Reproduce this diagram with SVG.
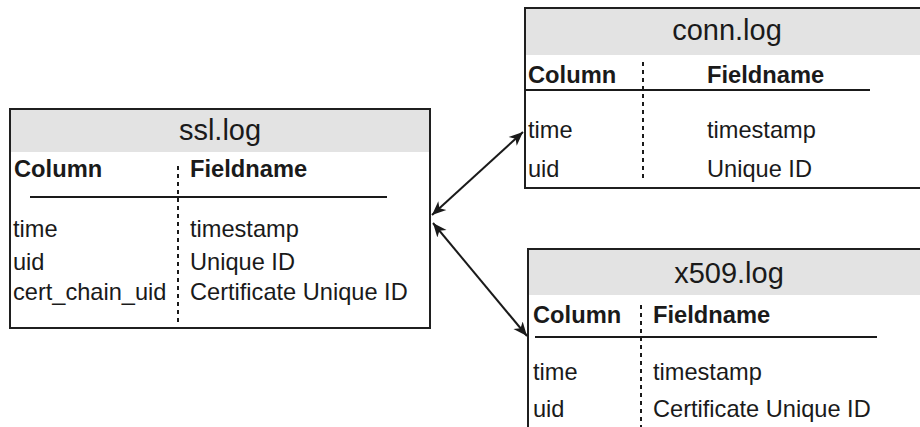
<svg xmlns="http://www.w3.org/2000/svg" width="920" height="427" viewBox="0 0 920 427">
  <style>
    text { font-family: "Liberation Sans", Arial, sans-serif; fill: #1a1a1a; }
    .title { font-size: 29px; text-anchor: middle; }
    .hdr { font-size: 23.7px; font-weight: bold; }
    .cell { font-size: 23.6px; }
    .box { fill: #ffffff; stroke: #1f1f1f; stroke-width: 2; }
    .head { fill: #e3e3e3; }
    .rule { stroke: #1a1a1a; stroke-width: 2; fill: none; }
    .sep { stroke: #1a1a1a; stroke-width: 2; stroke-dasharray: 4 4; fill: none; }
    .link { stroke: #1a1a1a; stroke-width: 2; fill: none; marker-start: url(#arrow); marker-end: url(#arrow); }
  </style>
  <defs>
    <marker id="arrow" viewBox="-14 -7 16 14" refX="0" refY="0" markerWidth="16" markerHeight="14" markerUnits="userSpaceOnUse" orient="auto-start-reverse">
      <path d="M0,0 L-14,-6 L-10,0 L-14,6 Z" fill="#1a1a1a"/>
    </marker>
  </defs>

  <rect width="920" height="427" fill="#ffffff"/>

  <!-- ssl.log table -->
  <g id="ssl-log">
    <rect class="box" x="10" y="109" width="420" height="219"/>
    <rect class="head" x="11" y="110" width="418" height="42"/>
    <text class="title" x="220" y="140">ssl.log</text>
    <text class="hdr" x="14" y="177">Column</text>
    <text class="hdr" x="190" y="177">Fieldname</text>
    <line class="rule" x1="30" y1="197" x2="387" y2="197"/>
    <line class="sep" x1="178" y1="166" x2="178" y2="322"/>
    <text class="cell" x="13" y="237">time</text>
    <text class="cell" x="190" y="237">timestamp</text>
    <text class="cell" x="13" y="270">uid</text>
    <text class="cell" x="190" y="270">Unique ID</text>
    <text class="cell" x="13" y="300">cert_chain_uid</text>
    <text class="cell" x="190" y="300">Certificate Unique ID</text>
  </g>

  <!-- conn.log table -->
  <g id="conn-log">
    <rect class="box" x="525" y="8" width="410" height="180"/>
    <rect class="head" x="526" y="9" width="400" height="46"/>
    <text class="title" x="727" y="40">conn.log</text>
    <text class="hdr" x="528" y="83">Column</text>
    <text class="hdr" x="707" y="83">Fieldname</text>
    <line class="rule" x1="525" y1="90" x2="870" y2="90"/>
    <line class="sep" x1="643" y1="62" x2="643" y2="180"/>
    <text class="cell" x="528" y="138">time</text>
    <text class="cell" x="707" y="138">timestamp</text>
    <text class="cell" x="528" y="177">uid</text>
    <text class="cell" x="707" y="177">Unique ID</text>
  </g>

  <!-- x509.log table -->
  <g id="x509-log">
    <rect class="box" x="528" y="249" width="410" height="200"/>
    <rect class="head" x="529" y="250" width="400" height="45"/>
    <text class="title" x="729" y="283">x509.log</text>
    <text class="hdr" x="533" y="323">Column</text>
    <text class="hdr" x="653" y="323">Fieldname</text>
    <line class="rule" x1="535" y1="337" x2="877" y2="337"/>
    <line class="sep" x1="641" y1="305" x2="641" y2="427"/>
    <text class="cell" x="533" y="380">time</text>
    <text class="cell" x="653" y="380">timestamp</text>
    <text class="cell" x="533" y="417">uid</text>
    <text class="cell" x="653" y="417">Certificate Unique ID</text>
  </g>

  <!-- relations between the logs -->
  <g id="connectors">
    <line class="link" x1="432" y1="215" x2="523" y2="132"/>
    <line class="link" x1="433" y1="223" x2="527" y2="336"/>
  </g>
</svg>
